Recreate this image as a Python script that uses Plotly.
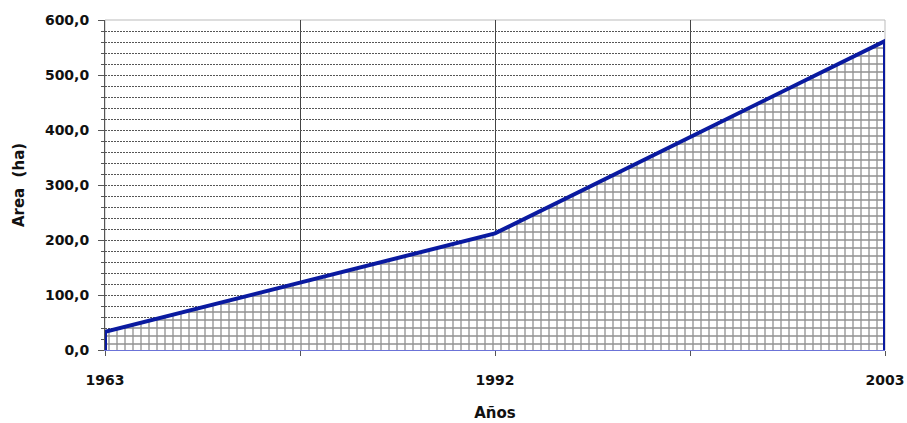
import plotly.graph_objects as go

# Area (ha) by year
years = ["1963", "1992", "2003"]
area_ha = [33.0, 212.0, 562.0]

pos = list(range(len(years)))
FAM = "DejaVu Sans, Arial, sans-serif"
tick_font = dict(family=FAM, size=14, color="#111111")
title_font = dict(family=FAM, size=15, color="#111111")

fig = go.Figure()

# brick-like hatched fill beneath the curve
fig.add_trace(go.Scatter(
    x=pos, y=area_ha, mode="lines", line=dict(width=0, color="rgba(0,0,0,0)"),
    fill="tozeroy", fillcolor="white",
    fillpattern=dict(shape="+", size=8, solidity=0.3, fgcolor="#222222", bgcolor="white"),
    hoverinfo="skip", showlegend=False,
))

# outline: left edge, the series line, right edge
fig.add_trace(go.Scatter(
    x=[pos[0]] + pos + [pos[-1]],
    y=[0] + area_ha + [0],
    mode="lines", line=dict(color="#0A1AA0", width=4),
    showlegend=False,
))

fig.update_layout(
    width=907, height=423,
    margin=dict(l=105, r=22, t=20, b=73),
    paper_bgcolor="white", plot_bgcolor="white",
    font=dict(family=FAM, size=14, color="#111111"),
    separators=",.",
    xaxis=dict(
        range=[0, len(years) - 1],
        automargin=False,
        tickmode="array", tickvals=pos,
        ticktext=[f"<b>{y}</b>" for y in years],
        tickfont=tick_font,
        ticklabeloverflow="allow",
        showgrid=False,
        minor=dict(dtick=0.5, tick0=0, showgrid=True, gridcolor="#444444", gridwidth=1,
                   ticks="outside", ticklen=5, tickcolor="#555555"),
        ticks="outside", ticklen=5, tickcolor="#555555",
        ticklabelstandoff=12,
        showline=True, linecolor="#6B73D8", linewidth=1, mirror=False,
        zeroline=False,
        title=dict(text="<b>Años</b>", standoff=20, font=title_font),
    ),
    yaxis=dict(
        range=[0, 600], dtick=100, tick0=0,
        automargin=False,
        tickformat=".1f",
        tickprefix="<b>", ticksuffix="</b>",
        tickfont=tick_font,
        ticklabeloverflow="allow",
        showgrid=True, gridcolor="#555555", gridwidth=1, griddash="2px,1px",
        minor=dict(dtick=20, showgrid=True, gridcolor="#555555", gridwidth=1, griddash="2px,1px",
                   ticks="outside", ticklen=3, tickcolor="#555555"),
        ticks="outside", ticklen=6, tickcolor="#555555",
        ticklabelstandoff=6,
        showline=True, linecolor="#555555", linewidth=1,
        zeroline=False,
        title=dict(text="<b>Area  (ha)</b>", standoff=16, font=title_font),
    ),
)

# light border around the plotting area
fig.add_shape(type="rect", xref="paper", yref="paper", x0=0, y0=0, x1=1, y1=1,
              line=dict(color="#BBBBBB", width=1), layer="below")

fig.write_html("out.html")
